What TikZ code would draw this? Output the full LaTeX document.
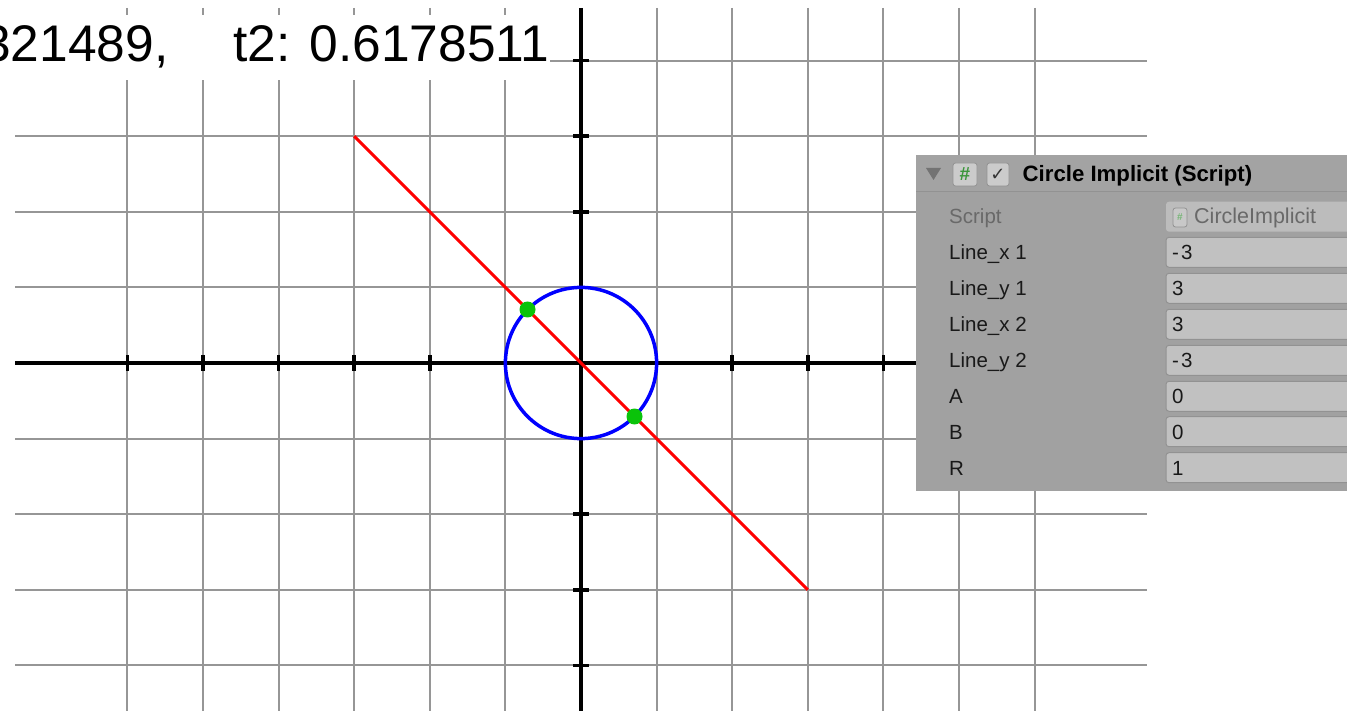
\documentclass[tikz,border=0pt]{standalone}
\usepackage{fontspec}
\setmainfont{Liberation Sans}
\newfontfamily\symfont{DejaVu Sans}
\definecolor{gridgray}{RGB}{150,150,150}
\definecolor{panelgray}{RGB}{161,161,161}
\definecolor{headgray}{RGB}{163,163,163}
\definecolor{fieldgray}{RGB}{193,193,193}
\definecolor{fieldedge}{RGB}{146,146,146}
\definecolor{dimtext}{RGB}{105,105,105}
\definecolor{icongray}{RGB}{203,203,203}
\definecolor{dotgreen}{RGB}{10,195,10}
\definecolor{hashgreen}{RGB}{60,150,60}
\begin{document}
\begin{tikzpicture}[x=1pt,y=-1pt,
  gridline/.style={draw=gridgray,line width=2pt},
  axisline/.style={draw=black,line width=4.5pt},
  tickmark/.style={draw=black,line width=3.5pt},
  segline/.style={draw=red,line width=3pt},
  circline/.style={draw=blue,line width=3.5pt},
  hitdot/.style={fill=dotgreen},
  bigtext/.style={inner sep=0pt,font=\fontsize{51.5}{60}\selectfont},
  labeltext/.style={inner sep=0pt,anchor=base west,font=\fontsize{20.5}{24}\selectfont,text=black!90},
  valuetext/.style={inner sep=0pt,anchor=base west,font=\fontsize{20.5}{24}\selectfont,text=black!90},
  fieldbox/.style={fill=fieldgray,draw=fieldedge,line width=1pt,rounded corners=3pt},
  iconbox/.style={fill=icongray,draw=fieldedge,line width=0.8pt,rounded corners=2.5pt}]
\useasboundingbox (0,0) rectangle (1347,711);
\fill[white] (0,0) rectangle (1347,711);
% grid
\foreach \i in {-6,...,6} \draw[gridline] ({581+75.6*\i},8) -- ({581+75.6*\i},711);
\foreach \j in {-4,...,4} \draw[gridline] (15,{363+75.6*\j}) -- (1147,{363+75.6*\j});
% axes
\coordinate (O) at (581,363);
\coordinate (xl) at (15,363);
\coordinate (xr) at (1147,363);
\coordinate (yt) at (581,8);
\coordinate (yb) at (581,711);
\draw[axisline] (xl) -- (xr);
\draw[axisline] (yt) -- (yb);
\foreach \i in {-6,-5,-4,-3,-2,-1,1,2,3,4,5,6}
  \draw[tickmark] ({581+75.6*\i},355) -- ({581+75.6*\i},371);
\foreach \j in {-4,-3,-2,-1,1,2,3,4}
  \draw[tickmark] (573,{363+75.6*\j}) -- (589,{363+75.6*\j});
% line segment and circle
\coordinate (P1) at (354.2,136.2);
\coordinate (P2) at (807.8,589.8);
\draw[segline] (P1) -- (P2);
\draw[circline] (O) circle (75.6);
\coordinate (H1) at (527.5,309.5);
\coordinate (H2) at (634.5,416.5);
\fill[hitdot] (H1) circle (8);
\fill[hitdot] (H2) circle (8);
% top-left text
\fill[white] (0,15) rectangle (550,80);
\node[bigtext,anchor=base west] (t1) at (-18,62) {321489,};
\node[bigtext,anchor=base west] (t2) at (233,62) {t2: 0.6178511};
% inspector panel
\fill[panelgray] (916,155) rectangle (1347,491);
\fill[headgray] (916,155) rectangle (1347,192);
\draw[fieldedge,line width=1pt] (916,192) -- (1347,192);
\fill[black!55] (926,168) -- (941,168) -- (933.5,180) -- cycle;
\draw[iconbox] (953,163) rectangle (977,186);
\node[inner sep=0pt,font=\fontsize{19}{19}\selectfont\bfseries,text=hashgreen] (hash) at (965,174.5) {\#};
\draw[iconbox] (987,163) rectangle (1009,186);
\node[inner sep=0pt,font=\symfont\fontsize{18}{18}\selectfont,text=black!80] (chk) at (998,175) {✓};
\node[inner sep=0pt,anchor=base west,font=\fontsize{22.2}{24}\selectfont\bfseries] (title) at (1022.5,181.7) {Circle Implicit (Script)};
% script row (disabled)
\fill[fieldgray!85!panelgray,rounded corners=3pt] (1166,201.7) rectangle (1360,231.7);
\draw[iconbox,fill=icongray!70!fieldgray] (1173,208) rectangle (1187,227);
\node[inner sep=0pt,font=\fontsize{10}{10}\selectfont\bfseries,text=hashgreen!70!white] (hash2) at (1180,217.5) {\#};
\node[labeltext,text=dimtext] (lscript) at (949,224) {Script};
\node[valuetext,text=dimtext,font=\fontsize{21.5}{24}\selectfont] (vscript) at (1194,224) {CircleImplicit};
% value rows
\foreach \yc/\lab/\val [count=\k] in {252.3/Line\_x 1/-{\kern2pt}3, 288.3/Line\_y 1/3, 324.3/Line\_x 2/3, 360.3/Line\_y 2/-{\kern2pt}3, 396.3/A/0, 431.7/B/0, 467.7/R/1}{
  \draw[fieldbox] (1166,{\yc-15}) rectangle (1365,{\yc+15});
  \node[labeltext] (lab\k) at (949,{\yc+7.3}) {\lab};
  \node[valuetext] (val\k) at (1172,{\yc+7.3}) {\val};
}
\end{tikzpicture}
\end{document}
